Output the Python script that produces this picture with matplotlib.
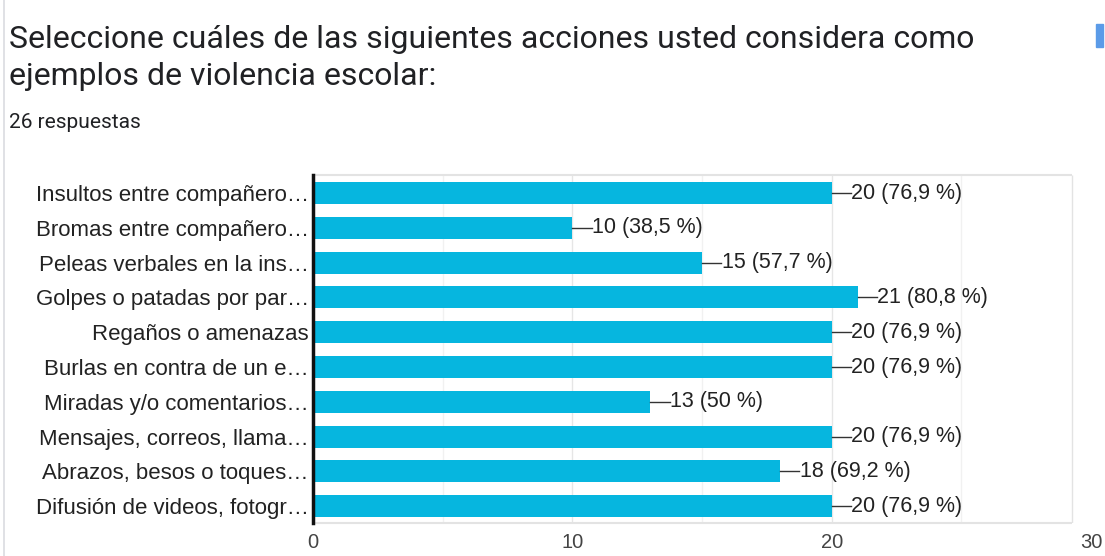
import matplotlib.pyplot as plt
from matplotlib.patches import Rectangle

# Data
categories = [
    "Insultos entre compañero…",
    "Bromas entre compañero…",
    "Peleas verbales en la ins…",
    "Golpes o patadas por par…",
    "Regaños o amenazas",
    "Burlas en contra de un e…",
    "Miradas y/o comentarios…",
    "Mensajes, correos, llama…",
    "Abrazos, besos o toques…",
    "Difusión de videos, fotogr…",
]
counts = [20, 10, 15, 21, 20, 20, 13, 20, 18, 20]
percent_labels = ["76,9", "38,5", "57,7", "80,8", "76,9", "76,9", "50", "76,9", "69,2", "76,9"]
xticks = [0, 10, 20, 30]

bar_color = "#06b6df"
text_color = "#222222"
frame_color = "#e3e3e3"

fig = plt.figure(figsize=(11.05, 5.56), dpi=100)
fig.patch.set_facecolor("white")

# Header texts
fig.text(0.0085, 0.929, "Seleccione cuáles de las siguientes acciones usted considera como",
         fontsize=23, family="Roboto", color="#202124", va="center")
fig.text(0.0085, 0.863, "ejemplos de violencia escolar:",
         fontsize=23, family="Roboto", color="#202124", va="center")
fig.text(0.0085, 0.779, "26 respuestas", fontsize=15, family="Roboto",
         color="#202124", va="center")

# card edge on the left and a small blue mark at top right
fig.add_artist(plt.Line2D([0.004, 0.004], [0.0, 1.0], color="#dadce0", lw=1.2))
fig.add_artist(Rectangle((0.992, 0.915), 0.006, 0.042, color="#5b9be8",
                         transform=fig.transFigure))

ax = fig.add_axes([0.2833, 0.0594, 0.704, 0.626])
y = list(range(len(categories)))
ax.barh(y, counts, height=0.63, color=bar_color, zorder=3)
ax.set_ylim(9.48, -0.52)
ax.set_xlim(0, 30)

ax.set_yticks(y)
ax.set_yticklabels(categories, family="Liberation Sans", fontsize=16, color=text_color)
ax.set_xticks(xticks)
ax.set_xticklabels([str(t) for t in xticks], family="Liberation Sans",
                   fontsize=14.5, color="#444444")
ax.tick_params(axis="both", which="both", length=0)
ax.tick_params(axis="y", pad=3)
ax.tick_params(axis="x", pad=7)

# light grid and frame (frame ends a bit before the 30 tick, as in the reference)
ax.vlines([10, 20], -0.52, 9.48, color="#e6e6e6", lw=1, zorder=0)
ax.vlines([5, 15, 25], -0.52, 9.48, color="#f1f1f1", lw=1, zorder=0)
ax.vlines([29.25], -0.52, 9.48, color=frame_color, lw=1, zorder=1)
ax.hlines([-0.52, 9.48], 0, 29.25, color=frame_color, lw=1.5, zorder=1, clip_on=False)
for side in ["top", "bottom", "right"]:
    ax.spines[side].set_visible(False)
ax.spines["left"].set_color("#111111")
ax.spines["left"].set_linewidth(2.5)
ax.spines["left"].set_zorder(5)

# value labels with leader line
for yi, c, p in zip(y, counts, percent_labels):
    ax.plot([c, c + 0.75], [yi, yi], color="#333333", lw=1, zorder=4)
    ax.text(c + 0.76, yi, f"{c} ({p} %)", va="center", ha="left",
            family="Liberation Sans", fontsize=15.5, color=text_color, zorder=4)

fig.savefig("out.png", dpi=100, facecolor="white")
